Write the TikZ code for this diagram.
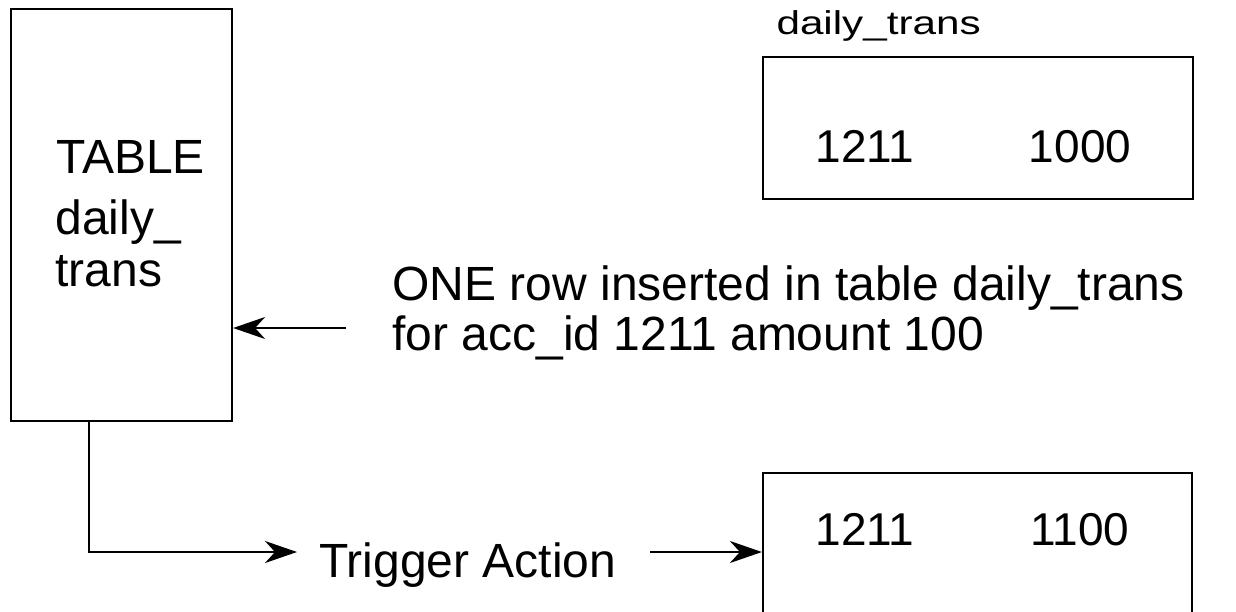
\documentclass[tikz,border=0pt]{standalone}
\usepackage{fontspec}
\setmainfont{Liberation Sans}
\usetikzlibrary{arrows.meta}
\begin{document}
\begin{tikzpicture}[x=0.5pt,y=-0.5pt,
  box/.style={draw,line width=1.1pt,rectangle,inner sep=0pt},
  txt/.style={inner sep=0pt,font=\fontsize{24}{28}\selectfont},
  num/.style={inner sep=0pt,font=\fontsize{23}{28}\selectfont},
  small/.style={inner sep=0pt,font=\fontsize{16.5}{20}\selectfont},
  arr/.style={line width=1pt,-{Stealth[length=16pt,width=11pt,inset=5pt]}}]
\clip (0,0) rectangle (1236,611);
\fill[white] (0,0) rectangle (1236,611);
% boxes
\node[box,minimum width=110.5pt,minimum height=206pt] (tbl) at (121.5,215) {};
\node[box,minimum width=215pt,minimum height=71pt] (topb) at (978,128) {};
\node[box,minimum width=214.5pt,minimum height=90pt] (botb) at (977.5,563) {};
% texts
\node[txt,anchor=base west] (t1) at (56,173) {TABLE};
\node[txt,anchor=base west] (t2) at (55,234) {daily\_};
\node[txt,anchor=base west] (t3) at (55,286) {trans};
\node[small,anchor=base west,xscale=1.28] (lbl) at (776,34) {daily\_trans};
\node[num,anchor=base] (n1) at (865,162) {1211};
\node[num,anchor=base] (n2) at (1080,162) {1000};
\node[num,anchor=base] (n3) at (865,545) {1211};
\node[num,anchor=base] (n4) at (1080,545) {1100};
\node[txt,anchor=base west] (m1) at (392,300) {ONE row inserted in table daily\_trans};
\node[txt,anchor=base west] (m2) at (392,350) {for acc\_id 1211 amount 100};
\node[txt,anchor=base west] (trig) at (319,577) {Trigger Action};
% connectors
\coordinate (in1) at (346,328);
\coordinate (a1) at (297,552);
\coordinate (a2) at (650,552);
\draw[arr] (in1) -- (in1 -| tbl.east);
\draw[arr] (tbl.south west) ++(79,0) |- (a1);
\draw[arr] (a2) -- (a2 -| botb.west);
\end{tikzpicture}
\end{document}
